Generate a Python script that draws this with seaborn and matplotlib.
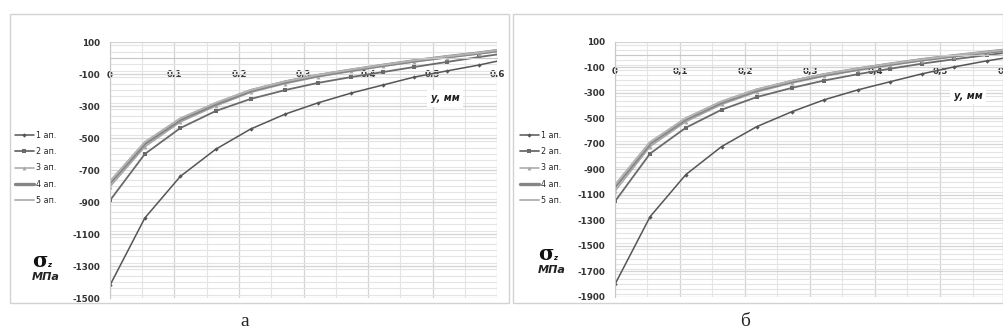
import numpy as np
import pandas as pd
import matplotlib
matplotlib.use("Agg")
import matplotlib.pyplot as plt
import seaborn as sns
from matplotlib.patches import Rectangle
from matplotlib.ticker import MultipleLocator, FuncFormatter

sns.set_style("white")
plt.rcParams['font.family'] = ['DejaVu Sans']
plt.rcParams['axes.unicode_minus'] = False

# --- data ---
y_mm = [0, 0.054, 0.109, 0.164, 0.218, 0.272, 0.322, 0.374, 0.423, 0.472, 0.522, 0.572, 0.6]
names = ["1 ап.", "2 ап.", "3 ап.", "4 ап.", "5 ап."]

# panel a
a_s1 = [-1420, -1000, -740, -570, -444, -350, -281, -219, -169, -119, -81, -44, -20]
a_s2 = [-890, -600, -438, -331, -256, -200, -156, -119, -88, -56, -25, 6, 22]
a_s3 = [-805, -555, -400, -300, -215, -160, -118, -83, -52, -24, 2, 26, 40]
a_s4 = [-780, -535, -385, -287, -205, -150, -110, -76, -46, -18, 8, 31, 46]
a_s5 = [-770, -525, -377, -280, -200, -146, -106, -72, -43, -15, 10, 33, 49]

# panel б
b_s1 = [-1800, -1270, -940, -720, -564, -447, -353, -275, -212, -150, -95, -48, -25]
b_s2 = [-1150, -775, -572, -431, -332, -260, -202, -152, -110, -70, -35, -3, 15]
b_s3 = [-1070, -720, -525, -390, -292, -222, -168, -122, -83, -47, -15, 14, 30]
b_s4 = [-1035, -695, -505, -373, -278, -210, -157, -112, -74, -39, -8, 20, 36]
b_s5 = [-1020, -685, -497, -366, -272, -205, -152, -108, -70, -36, -5, 23, 39]

a_ticks = list(range(-1500, 101, 200))
b_ticks = list(range(-1900, 101, 200))

styles = [
    dict(color="#555555", lw=1.1, marker="D", ms=2.2),
    dict(color="#6a6a6a", lw=1.3, marker="s", ms=3.2),
    dict(color="#a6a6a6", lw=1.1, marker="^", ms=2.8),
    dict(color="#858585", lw=2.4, marker=None, ms=0),
    dict(color="#b4b4b4", lw=1.4, marker=None, ms=0),
]

fig = plt.figure(figsize=(10.04, 3.36), dpi=100)

# panel frames
for x0, x1 in [(10, 509), (513, 1003)]:
    fig.patches.append(Rectangle((x0 / 1004, 1 - 303 / 336), (x1 - x0) / 1004, 289 / 336,
                                 transform=fig.transFigure, fill=False,
                                 edgecolor="#d2d2d2", lw=1.0))


def draw(ax, series, yticks, leg_y, sig_xy, label_xy):
    df = pd.DataFrame({"y": y_mm * 5,
                       "s": [v for ser in series for v in ser],
                       "name": [n for n in names for _ in y_mm]})
    for name, st in zip(names, styles):
        sub = df[df["name"] == name]
        sns.lineplot(data=sub, x="y", y="s", ax=ax, color=st["color"], lw=st["lw"],
                     marker=st["marker"], markersize=st["ms"], markeredgewidth=0,
                     markevery=list(range(len(y_mm) - 1)), label=name, sort=False)
    ax.set_xlim(0, 0.6)
    ax.set_ylim(yticks[0], yticks[-1])
    ax.set_yticks(yticks)
    ax.yaxis.set_minor_locator(MultipleLocator(40))
    ax.xaxis.set_major_locator(MultipleLocator(0.1))
    ax.xaxis.set_minor_locator(MultipleLocator(0.05))
    ax.xaxis.set_major_formatter(FuncFormatter(lambda v, p: ("%g" % round(v, 2)).replace(".", ",")))
    ax.grid(which="major", color="#d4d4d4", lw=0.9)
    ax.grid(which="minor", color="#e4e4e4", lw=0.8)
    ax.set_axisbelow(True)
    for side in ["top", "right"]:
        ax.spines[side].set_visible(False)
    ax.spines["left"].set_color("#c8c8c8")
    ax.spines["bottom"].set_position(("data", 0))
    ax.spines["bottom"].set_color("#c8c8c8")
    ax.tick_params(axis="x", length=0, pad=9, labelsize=6.3, labelcolor="#333333")
    ax.tick_params(axis="y", length=0, pad=7, labelsize=6.3, labelcolor="#333333")
    for t in ax.get_xticklabels() + ax.get_yticklabels():
        t.set_fontweight("bold")
    ax.set_xlabel("")
    ax.set_ylabel("")
    ax.patch.set_alpha(0)
    ax.legend(loc="upper left", bbox_to_anchor=(leg_y[0] / 1004, 1 - leg_y[1] / 336),
              bbox_transform=fig.transFigure, frameon=False, fontsize=5.8,
              handlelength=2.3, handletextpad=0.3, labelspacing=0.9,
              borderpad=0, borderaxespad=0)
    ax.text(label_xy[0], label_xy[1], "y, мм", transform=ax.transAxes, fontsize=7,
            style="italic", fontweight="bold", color="#222222", ha="center", va="center",
            bbox=dict(facecolor="white", edgecolor="none", pad=2.5))
    fig.text(sig_xy[0] / 1004, 1 - sig_xy[1] / 336, "σ", fontsize=15, fontweight="bold",
             color="#111111", ha="center", va="center", family="DejaVu Serif")
    fig.text((sig_xy[0] + 9) / 1004, 1 - (sig_xy[1] + 4) / 336, "z", fontsize=5,
             fontweight="bold", style="italic", color="#111111", ha="center", va="center")
    fig.text((sig_xy[0] + 6) / 1004, 1 - (sig_xy[1] + 16) / 336, "МПа", fontsize=8,
             fontweight="bold", style="italic", color="#222222", ha="center", va="center")


ax_a = fig.add_axes([110 / 1004, 1 - 298 / 336, 387 / 1004, 256 / 336])
draw(ax_a, [a_s1, a_s2, a_s3, a_s4, a_s5], a_ticks, (15, 131), (40, 261), (0.866, 0.78))

ax_b = fig.add_axes([615 / 1004, 1 - 297 / 336, 390 / 1004, 255 / 336])
draw(ax_b, [b_s1, b_s2, b_s3, b_s4, b_s5], b_ticks, (520, 131), (546, 254), (0.905, 0.79))

fig.text(245 / 1004, 1 - 322 / 336, "а", fontsize=14, family="Liberation Serif",
         ha="center", va="center")
fig.text(745 / 1004, 1 - 322 / 336, "б", fontsize=14, family="Liberation Serif",
         ha="center", va="center")

fig.savefig("out.png", dpi=100, facecolor="white")
